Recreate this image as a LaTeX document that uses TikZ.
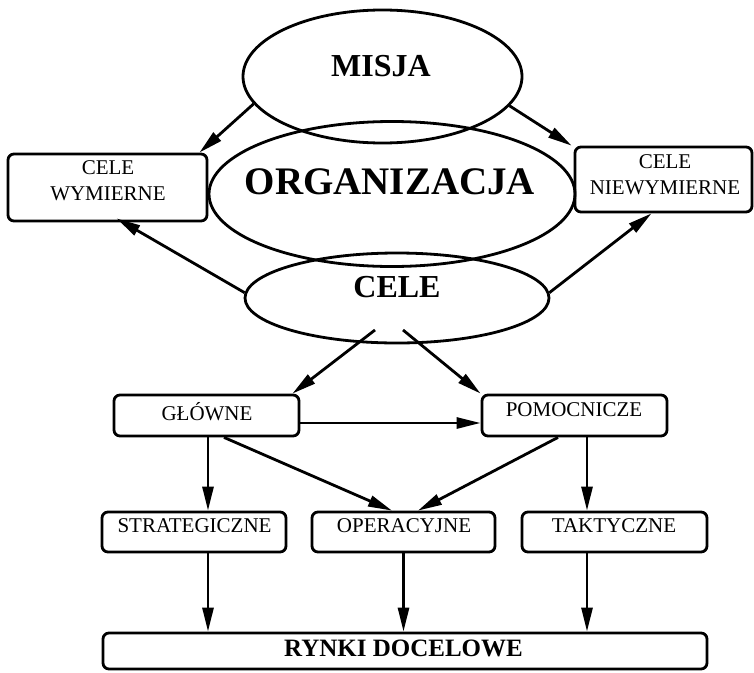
\documentclass[tikz,border=0pt]{standalone}
\usepackage{fontspec}
\setmainfont{Liberation Serif}
\usetikzlibrary{shapes.geometric,arrows.meta}
\begin{document}
\begin{tikzpicture}[x=1pt,y=-1pt,
  oval/.style={ellipse,draw,line width=2.8pt,inner sep=0pt},
  box/.style={rectangle,draw,line width=2.8pt,rounded corners=6pt,inner sep=0pt},
  small/.style={font=\fontsize{21}{26}\selectfont,align=center,inner sep=0pt},
  big/.style={font=\fontsize{32}{36}\selectfont\bfseries,inner sep=0pt},
  arr/.style={line width=2.8pt,-{Triangle[length=24pt,width=11pt]}}]
\useasboundingbox (0,0) rectangle (754,672);
% ellipses
\node[oval,minimum width=279pt,minimum height=133pt] (misja) at (382.5,76.5) {};
\node[oval,minimum width=366pt,minimum height=145pt] (org) at (392,194) {};
\node[oval,minimum width=304pt,minimum height=90pt] (cele) at (397,298) {};
\node[big] (tmisja) at (381,66) {MISJA};
\node[big,font=\fontsize{39}{44}\selectfont\bfseries] (torg) at (390,182) {ORGANIZACJA};
\node[big] (tcele) at (397,287) {CELE};
% boxes
\node[box,minimum width=199pt,minimum height=67pt] (wym) at (107.5,187.5) {};
\node[small] (twym) at (108,181) {CELE\\WYMIERNE};
\node[box,minimum width=177pt,minimum height=65pt] (niew) at (663.5,179.5) {};
\node[small] (tniew) at (665,175) {CELE\\NIEWYMIERNE};
\node[box,minimum width=185pt,minimum height=41pt] (glowne) at (206.5,415.5) {};
\node[small] (tglowne) at (207,412) {GŁÓWNE};
\node[box,minimum width=185pt,minimum height=41pt] (pomoc) at (574.5,415.5) {};
\node[small] (tpomoc) at (574,410) {POMOCNICZE};
\node[box,minimum width=184pt,minimum height=40pt] (strat) at (194,532) {};
\node[small] (tstrat) at (194.5,526) {STRATEGICZNE};
\node[box,minimum width=183pt,minimum height=40pt] (oper) at (403.5,532) {};
\node[small] (toper) at (404,526) {OPERACYJNE};
\node[box,minimum width=185pt,minimum height=40pt] (takt) at (614.5,532) {};
\node[small] (ttakt) at (614,526) {TAKTYCZNE};
\node[box,minimum width=604pt,minimum height=36pt] (rynki) at (405,651) {};
\node[big,font=\fontsize{25}{30}\selectfont\bfseries] (trynki) at (403.5,648) {RYNKI DOCELOWE};
% arrows
\draw[arr] (misja.192.6) -- ([xshift=-9pt]wym.north east);
\draw[arr] (misja.347.4) -- ([xshift=-2pt]niew.north west);
\draw[arr] (cele.178) -- ([xshift=9pt,yshift=4pt]wym.south);
\draw[arr] (cele.2) -- ([xshift=-12pt]niew.south);
\draw[arr] ([shift={(-22,32)}]cele.center) -- ([xshift=-8pt]glowne.north east);
\draw[arr] ([shift={(6,32)}]cele.center) -- (pomoc.north west);
\draw[arr] ([yshift=-7.5pt]glowne.east) -- ([yshift=-7.5pt]pomoc.west);
\draw[arr] ([xshift=1.5pt]glowne.south) -- ([xshift=1.5pt]glowne.south |- strat.north);
\draw[arr] ([xshift=17.5pt]glowne.south) -- ([xshift=-11.5pt]oper.north);
\draw[arr] ([xshift=-16.5pt]pomoc.south) -- ([xshift=14.5pt]oper.north);
\draw[arr] ([xshift=12.5pt]pomoc.south) -- ([xshift=12.5pt]pomoc.south |- takt.north);
\draw[arr] ([xshift=14pt]strat.south) -- ([xshift=14pt]strat.south |- rynki.north);
\draw[arr] (oper.south) -- (oper.south |- rynki.north);
\draw[arr] ([xshift=-27.5pt]takt.south) -- ([xshift=-27.5pt]takt.south |- rynki.north);
\end{tikzpicture}
\end{document}
